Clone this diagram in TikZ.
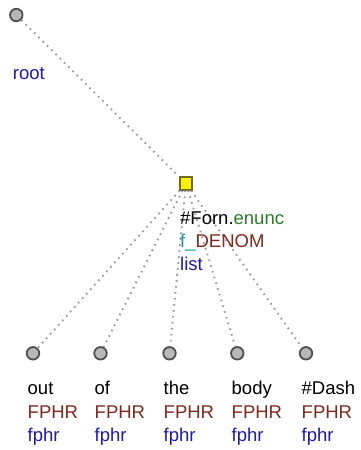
\documentclass[tikz,border=0pt]{standalone}
\usepackage{fontspec}
\setmainfont{Liberation Sans}
\definecolor{lblue}{HTML}{1C1CA0}
\definecolor{lbrown}{HTML}{7A2A1E}
\definecolor{lgreen}{HTML}{2A7A2A}
\definecolor{lteal}{HTML}{1A9A9A}
\definecolor{nodeedge}{HTML}{505050}
\definecolor{sqedge}{HTML}{6B6B20}
\tikzset{
  leaf/.style={circle,draw=nodeedge,fill=black!28,line width=1.8pt,minimum size=12.5pt,inner sep=0pt},
  headsq/.style={rectangle,draw=sqedge,fill=yellow,line width=1.6pt,minimum size=12.5pt,inner sep=0pt},
  edge/.style={draw=black!40,line width=1.9pt,dash pattern=on 1.6pt off 4.4pt},
  lbl/.style={anchor=base west,inner sep=0pt,font=\fontsize{18.5}{23}\selectfont},
}
\begin{document}
\begin{tikzpicture}[x=1pt,y=-1pt]
\useasboundingbox (0,0) rectangle (360,450);
\node[leaf] (root) at (16.3,15) {};
\node[headsq] (head) at (186,183.5) {};
\node[leaf] (w1) at (33,353.3) {};
\node[leaf] (w2) at (100.5,353.3) {};
\node[leaf] (w3) at (169.5,353.3) {};
\node[leaf] (w4) at (237.3,353.3) {};
\node[leaf] (w5) at (306,353.3) {};
\draw[edge] (root) -- (head);
\foreach \w in {w1,w2,w3,w4,w5} \draw[edge] (head) -- (\w);
\node[lbl,text=lblue] (rootlbl) at (12.7,79) {root};
\node[lbl] (hl1) at (180,224) {\#Forn.\textcolor{lgreen}{enunc}};
\node[lbl,text=lbrown] (hl2) at (180,247) {\textcolor{lteal}{f\_}DENOM};
\node[lbl,text=lblue] (hl3) at (180,270) {list};
\foreach \n/\x/\t in {1/27.5/out,2/94.5/of,3/163.5/the,4/231.5/body,5/301.5/\#Dash}{
  \node[lbl] (t\n) at (\x,394) {\t};
  \node[lbl,text=lbrown] (c\n) at (\x,418.5) {FPHR};
  \node[lbl,text=lblue] (f\n) at (\x,441.5) {fphr};
}
\end{tikzpicture}
\end{document}
